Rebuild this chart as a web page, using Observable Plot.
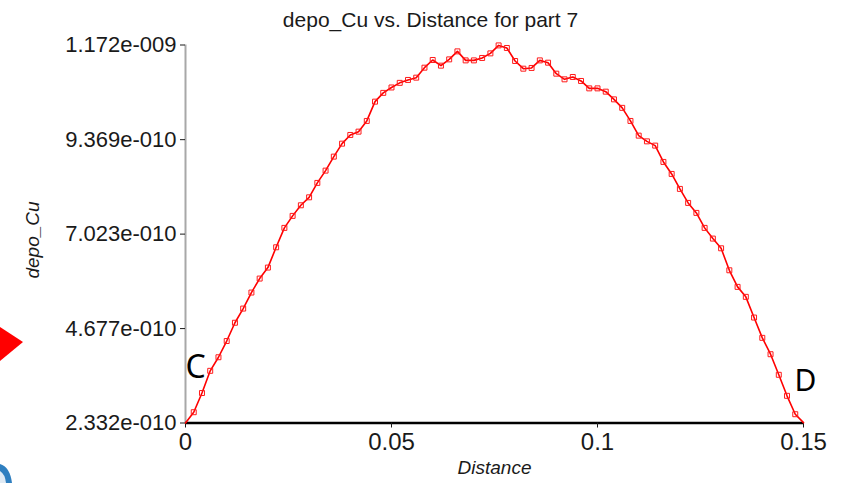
<!DOCTYPE html>
<html><head><meta charset="utf-8">
<script src="https://cdn.jsdelivr.net/npm/d3@7"></script>
<script src="https://cdn.jsdelivr.net/npm/@observablehq/plot@0.6"></script>
<style>
body{margin:0;background:#fff;}
#wrap{position:relative;width:845px;height:483px;overflow:hidden;background:#fff}
#deco{position:absolute;left:0;top:0;pointer-events:none}
</style>
</head><body>
<div id="wrap"></div>
<script>
const chartTitle = "depo_Cu vs. Distance for part 7";
const xTitle = "Distance";
const yTitle = "depo_Cu";
const pointLabels = ["C", "D"];

const distance = [
  0, 0.002, 0.004, 0.006, 0.008, 0.010, 0.012, 0.014, 0.016, 0.018,
  0.020, 0.022, 0.024, 0.026, 0.028, 0.030, 0.032, 0.034, 0.036, 0.038,
  0.040, 0.042, 0.044, 0.046, 0.048, 0.050, 0.052, 0.054, 0.056, 0.058,
  0.060, 0.062, 0.064, 0.066, 0.068, 0.070, 0.072, 0.074, 0.076, 0.078,
  0.080, 0.082, 0.084, 0.086, 0.088, 0.090, 0.092, 0.094, 0.096, 0.098,
  0.100, 0.102, 0.104, 0.106, 0.108, 0.110, 0.112, 0.114, 0.116, 0.118,
  0.120, 0.122, 0.124, 0.126, 0.128, 0.130, 0.132, 0.134, 0.136, 0.138,
  0.140, 0.142, 0.144, 0.146, 0.148, 0.150
];

const depoCu = [
  2.332e-10, 2.600e-10, 3.077e-10, 3.628e-10, 3.965e-10, 4.368e-10, 4.822e-10, 5.174e-10, 5.572e-10, 5.919e-10,
  6.192e-10, 6.696e-10, 7.178e-10, 7.476e-10, 7.739e-10, 7.937e-10, 8.295e-10, 8.600e-10, 8.948e-10, 9.270e-10,
  9.486e-10, 9.568e-10, 9.834e-10, 10.313e-10, 10.531e-10, 10.665e-10, 10.780e-10, 10.852e-10, 10.909e-10, 11.157e-10,
  11.348e-10, 11.207e-10, 11.363e-10, 11.562e-10, 11.338e-10, 11.338e-10, 11.398e-10, 11.512e-10, 11.710e-10, 11.646e-10,
  11.323e-10, 11.132e-10, 11.150e-10, 11.338e-10, 11.281e-10, 11.008e-10, 10.867e-10, 10.926e-10, 10.827e-10, 10.643e-10,
  10.643e-10, 10.561e-10, 10.370e-10, 10.159e-10, 9.834e-10, 9.469e-10, 9.327e-10, 9.221e-10, 8.816e-10, 8.518e-10,
  8.146e-10, 7.798e-10, 7.550e-10, 7.178e-10, 6.912e-10, 6.671e-10, 6.125e-10, 5.713e-10, 5.465e-10, 4.951e-10,
  4.447e-10, 4.040e-10, 3.529e-10, 3.007e-10, 2.550e-10, 2.340e-10
];

const xTicks = [0, 0.05, 0.1, 0.15];
const xTickLabels = ["0", "0.05", "0.1", "0.15"];
const yTicks = [2.332e-10, 4.677e-10, 7.023e-10, 9.369e-10, 1.172e-9];
const yTickLabels = ["2.332e-010", "4.677e-010", "7.023e-010", "9.369e-010", "1.172e-009"];

const data = distance.map((d, i) => ({distance: d, depo: depoCu[i]}));
const markerData = data.slice(1, data.length - 1);

const chart = Plot.plot({
  width: 845,
  height: 483,
  marginLeft: 185,
  marginRight: 42,
  marginTop: 44.5,
  marginBottom: 60.5,
  style: {fontFamily: "'Liberation Sans', Arial, sans-serif", background: "white", color: "#1a1a1a"},
  x: {domain: [xTicks[0], xTicks[xTicks.length - 1]]},
  y: {domain: [yTicks[0], yTicks[yTicks.length - 1]]},
  marks: [
    Plot.ruleX([xTicks[0]], {stroke: "#a8a8a8", strokeWidth: 2}),
    Plot.ruleY([yTicks[0]], {stroke: "black", strokeWidth: 2.5}),
    Plot.axisY({ticks: yTicks, tickFormat: (d, i) => yTickLabels[i], tickSize: 5, tickPadding: 4, fontSize: 22, label: null}),
    Plot.axisX({ticks: xTicks, tickFormat: (d, i) => xTickLabels[i], tickSize: 5, tickPadding: 5, fontSize: 24, label: null}),
    Plot.line(data, {x: "distance", y: "depo", stroke: "#ff0000", strokeWidth: 1.6}),
    Plot.dot(markerData, {x: "distance", y: "depo", symbol: "square", r: 2.8, stroke: "#ff1a1a", strokeWidth: 1, fill: "none"}),
    Plot.text([chartTitle], {frameAnchor: "top", dx: -64, dy: -24.5, lineAnchor: "middle", fontSize: 21, fill: "#1a1a1a"}),
    Plot.text([xTitle], {frameAnchor: "bottom", dy: 44.5, lineAnchor: "middle", fontSize: 19, fontStyle: "italic", fill: "#1a1a1a"}),
    Plot.text([yTitle], {frameAnchor: "left", dx: -153, dy: 6, rotate: -90, textAnchor: "middle", lineAnchor: "middle", fontSize: 19, fontStyle: "italic", fill: "#1a1a1a"}),
    Plot.text([pointLabels[0]], {frameAnchor: "bottom-left", dx: 0, dy: -55, textAnchor: "start", lineAnchor: "middle", fontSize: 32, fontFamily: "'Noto Sans', sans-serif", fill: "black"}),
    Plot.text([pointLabels[1]], {frameAnchor: "bottom-right", dx: -9, dy: -41.5, textAnchor: "start", lineAnchor: "middle", fontSize: 30, fontFamily: "'Noto Sans', sans-serif", fill: "black"})
  ]
});

const wrap = document.getElementById("wrap");
wrap.appendChild(chart);
const ns = "http://www.w3.org/2000/svg";
const deco = document.createElementNS(ns, "svg");
deco.setAttribute("id", "deco");
deco.setAttribute("width", 845);
deco.setAttribute("height", 483);
deco.innerHTML = '<polygon points="0,327 23,342 0,361" fill="#ff0000"/>' +
  '<path d="M0,464 Q10,467 12,483 L0,483 Z" fill="#2f7fc0"/>' +
  '<path d="M0,471 Q5,474 6,483 L0,483 Z" fill="#dfeaf4"/>';
wrap.appendChild(deco);
</script>
</body></html>
